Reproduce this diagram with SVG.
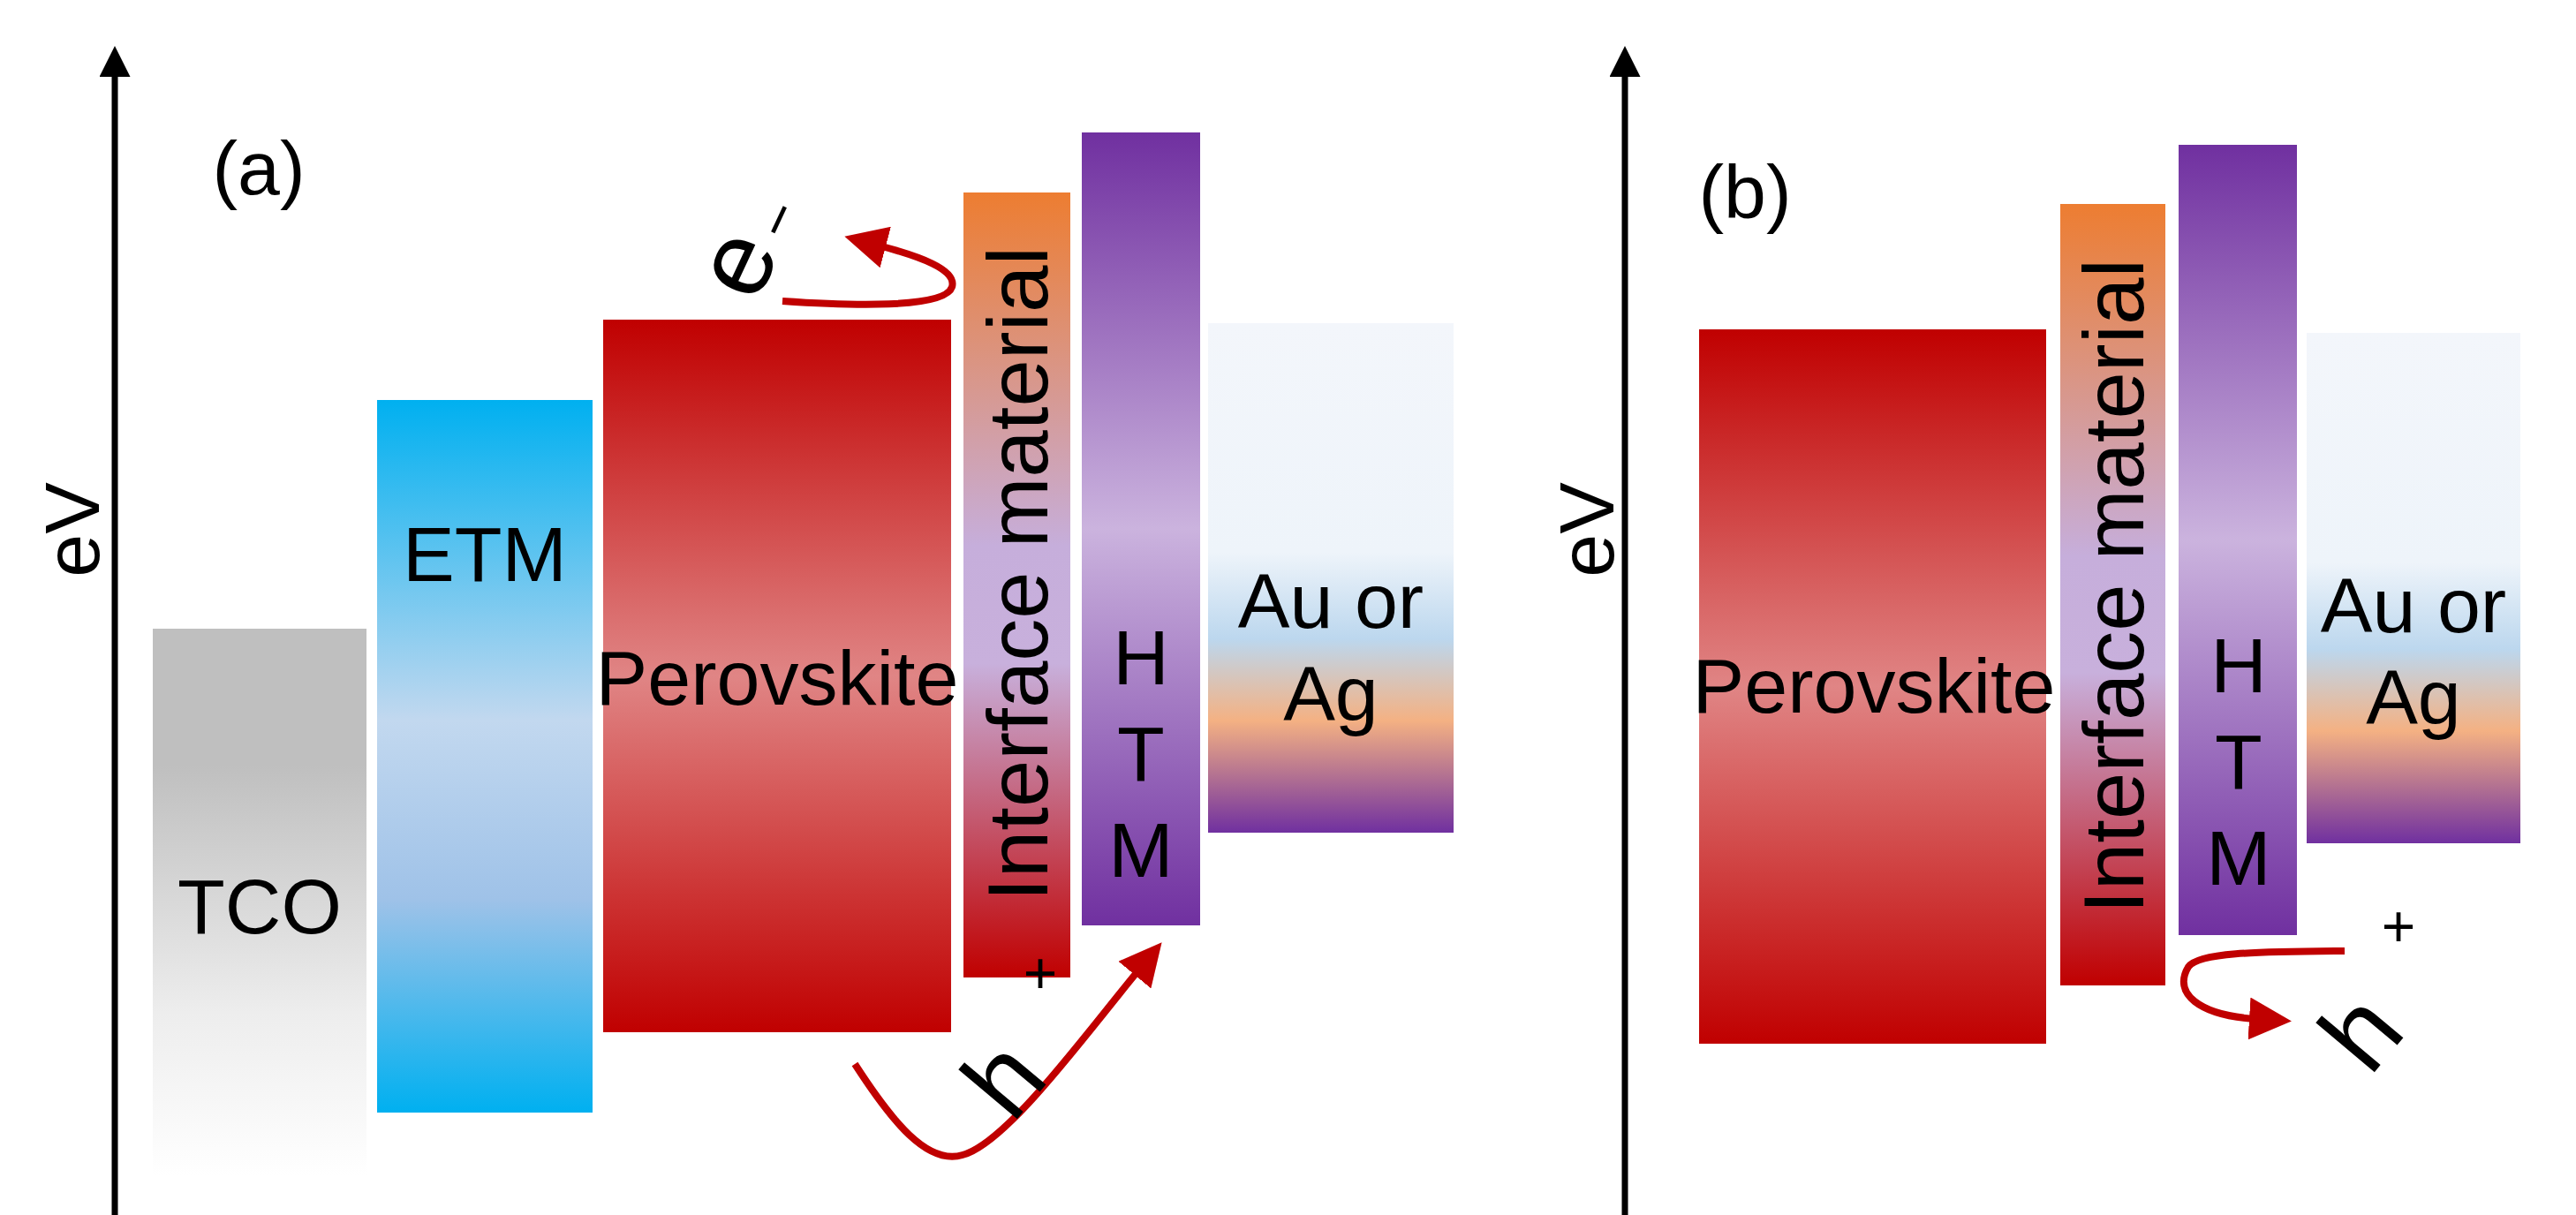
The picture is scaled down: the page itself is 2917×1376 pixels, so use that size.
<svg xmlns="http://www.w3.org/2000/svg" width="2917" height="1376" viewBox="0 0 2917 1376">
<style>
text{font-family:"Liberation Sans",Arial,sans-serif;fill:#000;text-anchor:middle}
.lb{font-size:88px}
.im{font-size:96px}
.big{font-size:120px}
.sup{font-size:66px}
.ax{stroke:#000;stroke-width:7;fill:none}
.ar{stroke:#c00000;stroke-width:8;fill:none}
</style>
<defs>
<marker id="ah" markerWidth="5" markerHeight="5" refX="1" refY="2.5" orient="auto" markerUnits="strokeWidth"><path d="M0,0 L5,2.5 L0,5 z" fill="#000"/></marker>
<marker id="rh" markerWidth="6" markerHeight="6" refX="1" refY="3" orient="auto" markerUnits="strokeWidth"><path d="M0,0 L6,3 L0,6 z" fill="#c00000"/></marker>
<linearGradient id="gPer" x1="0" y1="0" x2="0" y2="1"><stop offset="0" stop-color="#c00000"/><stop offset="0.5" stop-color="#e08585"/><stop offset="1" stop-color="#c00000"/></linearGradient>
<linearGradient id="gInt" x1="0" y1="0" x2="0" y2="1"><stop offset="0" stop-color="#ed7d31"/><stop offset="0.45" stop-color="#c6aedb"/><stop offset="0.6" stop-color="#c8b0dc"/><stop offset="1" stop-color="#c00000"/></linearGradient>
<linearGradient id="gHTM" x1="0" y1="0" x2="0" y2="1"><stop offset="0" stop-color="#7030a0"/><stop offset="0.5" stop-color="#cbb3de"/><stop offset="1" stop-color="#7030a0"/></linearGradient>
<linearGradient id="gAu" x1="0" y1="0" x2="0" y2="1"><stop offset="0" stop-color="#f3f6fb"/><stop offset="0.45" stop-color="#eef4fa"/><stop offset="0.62" stop-color="#bcd7ee"/><stop offset="0.78" stop-color="#f4b183"/><stop offset="1" stop-color="#7030a0"/></linearGradient>
<linearGradient id="gETM" x1="0" y1="0" x2="0" y2="1"><stop offset="0" stop-color="#00b0f0"/><stop offset="0.45" stop-color="#c2d8ef"/><stop offset="0.7" stop-color="#9fc2e8"/><stop offset="1" stop-color="#00b0f0"/></linearGradient>
<linearGradient id="gTCO" x1="0" y1="0" x2="0" y2="1"><stop offset="0" stop-color="#bfbfbf"/><stop offset="0.25" stop-color="#bfbfbf"/><stop offset="0.7" stop-color="#ededed"/><stop offset="1" stop-color="#ffffff"/></linearGradient>
</defs>
<g id="axis-a"><line class="ax" x1="130" y1="1376" x2="130" y2="80" marker-end="url(#ah)"/><text class="lb" transform="translate(112,600) rotate(-90)">eV</text><text x="293" y="220" font-size="86">(a)</text></g>
<g id="tco-a"><rect x="173" y="712" width="242" height="620" fill="url(#gTCO)"/><text class="lb" x="294" y="1057">TCO</text></g>
<g id="etm-a"><rect x="427" y="453" width="244" height="807" fill="url(#gETM)"/><text class="lb" x="549" y="658">ETM</text></g>
<g id="per-a"><rect x="683" y="362" width="394" height="807" fill="url(#gPer)"/><text class="lb" x="880" y="798">Perovskite</text></g>
<g id="int-a"><rect x="1091" y="218" width="121" height="889" fill="url(#gInt)"/><text class="im" transform="translate(1186,650) rotate(-90)">Interface material</text></g>
<g id="htm-a"><rect x="1225" y="150" width="134" height="898" fill="url(#gHTM)"/><text class="lb" x="1292" y="775">H</text><text class="lb" x="1292" y="884">T</text><text class="lb" x="1292" y="993">M</text></g>
<g id="au-a"><rect x="1368" y="366" width="278" height="577" fill="url(#gAu)"/><text class="lb" x="1507" y="711">Au or</text><text class="lb" x="1507" y="816">Ag</text></g>
<g id="axis-b"><line class="ax" x1="1840" y1="1376" x2="1840" y2="80" marker-end="url(#ah)"/><text class="lb" transform="translate(1827,600) rotate(-90)">eV</text><text x="1976" y="247" font-size="86">(b)</text></g>
<g id="per-b"><rect x="1924" y="373" width="393" height="809" fill="url(#gPer)"/><text class="lb" x="2122" y="807">Perovskite</text></g>
<g id="int-b"><rect x="2333" y="231" width="119" height="885" fill="url(#gInt)"/><text class="im" transform="translate(2427,664) rotate(-90)">Interface material</text></g>
<g id="htm-b"><rect x="2467" y="164" width="134" height="895" fill="url(#gHTM)"/><text class="lb" x="2535" y="784">H</text><text class="lb" x="2535" y="893">T</text><text class="lb" x="2535" y="1002">M</text></g>
<g id="au-b"><rect x="2612" y="377" width="242" height="578" fill="url(#gAu)"/><text class="lb" x="2733" y="716">Au or</text><text class="lb" x="2733" y="820">Ag</text></g>
<g id="connectors">
<path class="ar" d="M886,341 C960,346 1070,350 1078,325 C1084,305 1040,290 995,278" marker-end="url(#rh)"/>
<path class="ar" d="M968,1205 C1010,1270 1050,1320 1090,1308 C1140,1295 1230,1170 1290,1098" marker-end="url(#rh)"/>
<path class="ar" d="M2655,1077 C2560,1078 2490,1078 2478,1095 C2460,1125 2490,1150 2555,1154" marker-end="url(#rh)"/>
</g>
<g id="labels">
<text class="big" transform="translate(870,315) rotate(-65)">e</text><text class="sup" transform="translate(902,258) rotate(-65)">−</text>
<text class="big" transform="translate(1168,1248) rotate(-50)">h</text><text class="sup" x="1178" y="1125">+</text>
<text class="big" transform="translate(2705,1195) rotate(-50)">h</text><text class="sup" x="2716" y="1072">+</text>
</g>
</svg>
